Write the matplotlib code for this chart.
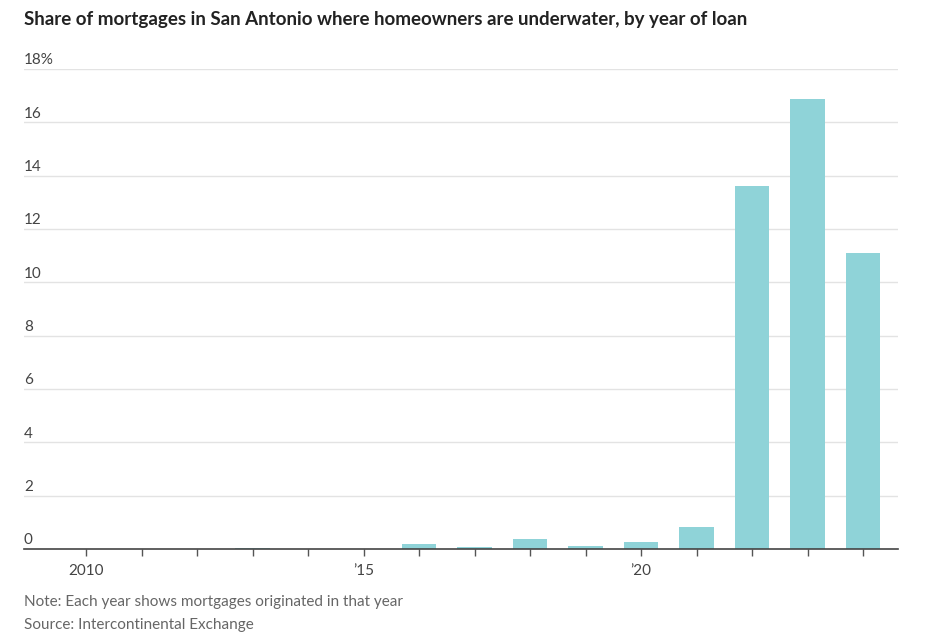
import matplotlib.pyplot as plt
import numpy as np

plt.rcParams['font.family'] = ['Lato', 'DejaVu Sans']

years = list(range(2010, 2025))
share = [0.0, 0.0, 0.0, 0.03, 0.0, 0.0, 0.19, 0.07, 0.37, 0.12, 0.26, 0.82, 13.62, 16.88, 11.1]
yticks = [0, 2, 4, 6, 8, 10, 12, 14, 16, 18]
xlabels = {2010: '2010', 2015: '\u201915', 2020: '\u201920'}

fig = plt.figure(figsize=(9.36, 6.44), dpi=100)
ax = fig.add_axes([24/936, 95/644, (898-24)/936, 480/644])

ax.bar(years, share, width=0.62, color='#8fd3d8', zorder=2)

ax.set_xlim(2008.88, 2024.63)
ax.set_ylim(0, 18)

# gridlines + labels sitting above them
for v in yticks[1:]:
    ax.axhline(v, color='#e3e3e3', lw=1, zorder=0)
for v in yticks:
    lab = f'{v}%' if v == 18 else str(v)
    ax.text(0, v + 0.06, lab, transform=ax.get_yaxis_transform(), ha='left', va='bottom',
            fontsize=11, color='#444444')
ax.set_yticks([])

ax.set_xticks(years)
ax.set_xticklabels([xlabels.get(y, '') for y in years], fontsize=11, color='#444444')
ax.tick_params(axis='x', length=5, width=1, color='#555555', pad=6)

for s in ['top', 'right', 'left']:
    ax.spines[s].set_visible(False)
ax.spines['bottom'].set_color('#444444')
ax.spines['bottom'].set_linewidth(1.2)
ax.spines['bottom'].set_zorder(3)

fig.text(24/936, 1 - 19/644, 'Share of mortgages in San Antonio where homeowners are underwater, by year of loan',
         fontsize=13.5, fontweight='bold', color='#222222', va='center', ha='left')
fig.text(24/936, 1 - 602/644, 'Note: Each year shows mortgages originated in that year',
         fontsize=11, color='#666666', va='center', ha='left')
fig.text(24/936, 1 - 625/644, 'Source: Intercontinental Exchange',
         fontsize=11, color='#666666', va='center', ha='left')

fig.savefig('out.png', dpi=100)
